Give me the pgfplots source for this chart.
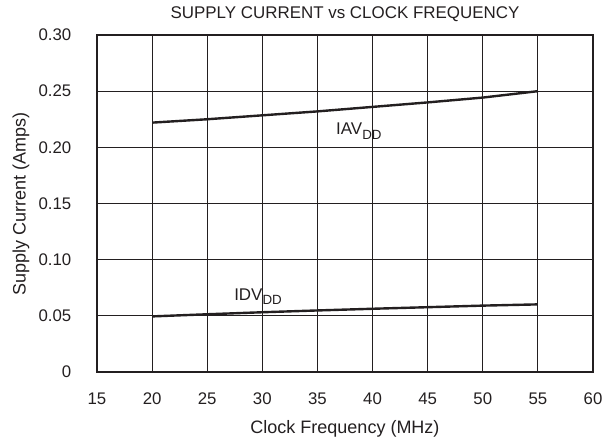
\documentclass[border=0pt]{standalone}
\usepackage{pgfplots}
\pgfplotsset{compat=1.18}
\usepackage{fontspec}
\setmainfont{Liberation Sans}
\definecolor{ink}{HTML}{231F20}
\newcommand{\sub}[1]{\raisebox{-3.2pt}{\fontsize{10}{11}\selectfont #1}}
\begin{document}
\begin{tikzpicture}
\useasboundingbox (-72.75pt,-54pt) rectangle (389.25pt,279pt);
\begin{axis}[
  at={(0,0)}, anchor=south west,
  scale only axis,
  width=372pt, height=252.75pt,
  xmin=15, xmax=60, ymin=0, ymax=0.30,
  xtick={15,20,...,60},
  xticklabels={15,20,25,30,35,40,45,50,55,60},
  ytick={0,0.05,0.10,0.15,0.20,0.25,0.30},
  yticklabels={0,0.05,0.10,0.15,0.20,0.25,0.30},
  major tick length=0pt,
  grid=major,
  major grid style={ink, line width=0.8pt},
  axis line style={ink, line width=2.2pt},
  tick label style={font=\fontsize{12.6}{14}\selectfont, text=ink},
  xticklabel style={yshift=-12.1pt},
  yticklabel style={xshift=-15.8pt},
  xlabel={Clock Frequency (MHz)},
  ylabel={Supply Current (Amps)},
  label style={font=\fontsize{13.5}{15}\selectfont, text=ink},
  xlabel style={at={(axis description cs:0.5,0)}, anchor=center, yshift=-42.8pt},
  ylabel style={at={(axis description cs:-0.1532,0.5)}, anchor=center},
  title={SUPPLY CURRENT vs CLOCK FREQUENCY},
  title style={font=\fontsize{12.7}{14}\selectfont, text=ink, at={(axis description cs:0.5,1)}, anchor=center, yshift=9.5pt},
  clip=false,
]
\addplot[ink, line width=1.8pt] coordinates {
  (20,0.2220) (25,0.2250) (30,0.2285) (35,0.2320) (40,0.2360) (45,0.2400) (50,0.2443) (55,0.2500)
};
\addplot[ink, line width=1.8pt] coordinates {
  (20,0.0495) (25,0.0514) (30,0.0532) (35,0.0548) (40,0.0563) (45,0.0577) (50,0.0591) (55,0.0602)
};
\node[font=\fontsize{12.7}{14}\selectfont, text=ink, anchor=base west, inner sep=0pt] at (axis cs:36.68,0.211) {IAV\sub{DD}};
\node[font=\fontsize{12.7}{14}\selectfont, text=ink, anchor=base west, inner sep=0pt] at (axis cs:27.43,0.0641) {IDV\sub{DD}};
\end{axis}
\end{tikzpicture}
\end{document}
